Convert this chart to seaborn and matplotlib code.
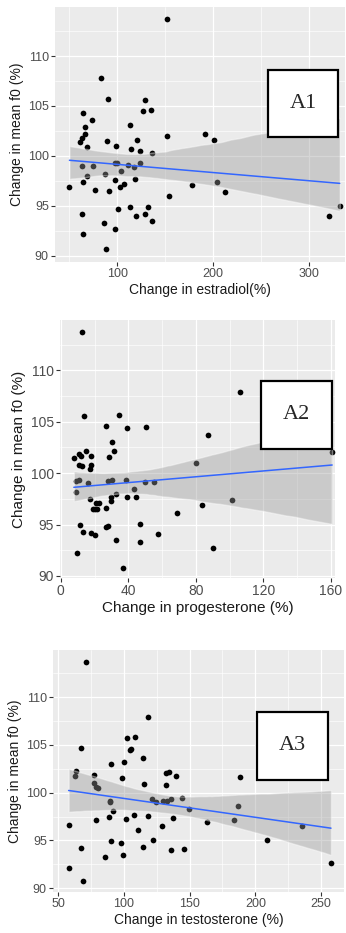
import numpy as np
import pandas as pd
import matplotlib
matplotlib.use('Agg')
import matplotlib.pyplot as plt
from matplotlib.patches import Rectangle
from matplotlib.ticker import MultipleLocator
import seaborn as sns

# Panel A1 : estradiol
estradiol = [152.4, 82.9, 90.2, 129.3, 134.9, 127.2, 64.4, 73.8, 112.9, 66.8,
             66.8, 152.4, 191.4, 200.9, 62.7, 61.3, 89.2, 120.9, 68.9, 98.6,
             114.0, 123.4, 136.0, 62.7, 74.2, 97.6, 100.0, 111.5, 123.7, 117.5,
             103.5, 87.4, 68.9, 97.9, 118.5, 107.0, 102.8, 50.1, 64.7, 77.3,
             91.3, 177.8, 204.4, 213.1, 154.1, 113.3, 132.5, 100.7, 63.7, 128.6,
             119.2, 136.0, 86.4, 97.6, 64.7, 88.5, 321.0, 332.5]
f0_estradiol = [113.7, 107.8, 105.7, 105.6, 104.6, 104.5, 104.3, 103.6, 103.1, 102.9,
                102.2, 102.0, 102.2, 101.6, 101.8, 101.4, 101.5, 101.6, 100.9, 101.0,
                100.7, 100.5, 100.3, 99.0, 99.0, 99.3, 99.3, 99.1, 99.3, 98.9,
                98.5, 98.2, 98.0, 97.6, 97.7, 97.2, 96.9, 96.9, 97.4, 96.6,
                96.5, 97.1, 97.4, 96.4, 96.0, 94.9, 94.9, 94.7, 94.2, 94.2,
                94.0, 93.5, 93.3, 92.7, 92.2, 90.7, 94.0, 95.0]

# Panel A2 : progesterone (le dernier point est caché sous le cadre A2)
progesterone = [12.8, 105.9, 13.6, 34.4, 26.8, 39.4, 50.6, 87.0, 30.1, 31.5,
                15.0, 11.0, 7.7, 11.8, 18.1, 28.7, 11.0, 12.8, 18.1, 17.3,
                80.3, 160.8, 9.1, 11.0, 15.9, 27.9, 30.5, 38.8, 49.8, 55.1,
                8.9, 32.7, 43.5, 29.5, 29.9, 39.4, 44.7, 17.5, 21.1, 22.8,
                18.9, 20.3, 21.6, 27.0, 83.4, 101.4, 68.9, 11.4, 47.0, 27.0,
                27.9, 13.0, 18.1, 20.3, 57.3, 32.9, 47.2, 90.1, 9.6, 36.8,
                125.0]
f0_progesterone = [113.7, 107.9, 105.6, 105.7, 104.6, 104.4, 104.5, 103.7, 103.0, 102.2,
                   102.2, 101.9, 101.5, 101.7, 101.7, 101.6, 100.8, 100.7, 100.8, 100.4,
                   101.0, 102.1, 99.2, 99.3, 99.0, 99.2, 99.3, 99.3, 99.1, 99.1,
                   98.2, 98.0, 98.5, 97.7, 97.3, 97.7, 97.7, 97.5, 97.1, 97.1,
                   96.5, 96.5, 96.5, 96.6, 96.9, 97.4, 96.1, 95.0, 95.1, 94.8,
                   94.9, 94.3, 94.2, 94.0, 94.1, 93.5, 93.3, 92.7, 92.2, 90.8,
                   104.0]

# Panel A3 : testosterone
testosterone = [70.8, 118.5, 108.6, 102.5, 67.5, 104.3, 105.3, 114.7, 100.3, 90.4,
                63.7, 62.7, 76.9, 98.7, 132.0, 134.3, 139.3, 188.3, 76.9, 78.4,
                80.5, 115.5, 132.0, 89.1, 89.6, 121.1, 124.1, 129.9, 132.5, 135.8,
                144.2, 91.9, 107.9, 118.3, 88.8, 137.6, 149.7, 186.8, 78.4, 101.3,
                183.8, 163.5, 57.9, 129.2, 110.4, 235.5, 90.4, 98.0, 122.3, 208.6,
                67.5, 114.7, 135.5, 145.9, 85.8, 99.5, 57.9, 257.6, 68.5]
f0_testosterone = [113.7, 107.9, 105.8, 105.7, 104.7, 104.5, 104.6, 103.6, 103.2, 103.0,
                   102.3, 101.7, 101.9, 101.5, 102.1, 102.2, 101.7, 101.6, 101.0, 100.6,
                   100.5, 100.9, 100.8, 99.1, 99.0, 99.3, 99.0, 99.1, 99.1, 99.3,
                   99.4, 98.1, 97.7, 97.6, 97.5, 97.4, 98.3, 98.6, 97.1, 97.2,
                   97.1, 96.9, 96.6, 96.5, 96.1, 96.5, 94.9, 94.7, 95.0, 95.0,
                   94.2, 94.3, 94.0, 94.1, 93.3, 93.5, 92.1, 92.6, 90.8]

sns.set_style('darkgrid', {'axes.facecolor': '#EBEBEB', 'grid.color': 'white'})
plt.rcParams['font.family'] = ['Liberation Sans', 'DejaVu Sans']

fig = plt.figure(figsize=(3.46, 9.33), dpi=100)
fig.patch.set_facecolor('white')


def draw_panel(rect, x, y, xlabel, xlim, ylim, xmaj, box, tag, fs_tick, fs_lab, seed):
    ax = fig.add_axes(rect)
    df = pd.DataFrame({'x': x, 'y': y})
    sns.scatterplot(data=df, x='x', y='y', ax=ax, color='black', s=17,
                    linewidth=0, zorder=3)
    # bande de confiance grise, comme geom_smooth
    sns.regplot(data=df, x='x', y='y', ax=ax, scatter=False, ci=95, seed=seed,
                n_boot=2000, color='#999999', line_kws={'alpha': 0})
    band = ax.collections[-1]
    band.set_facecolor('#999999')
    band.set_alpha(0.4)
    band.set_zorder(4)
    sns.regplot(data=df, x='x', y='y', ax=ax, scatter=False, ci=None,
                line_kws={'color': '#3366FF', 'lw': 1.1, 'zorder': 5})

    ax.set_xlim(*xlim)
    ax.set_ylim(*ylim)
    ax.xaxis.set_major_locator(MultipleLocator(xmaj))
    ax.xaxis.set_minor_locator(MultipleLocator(xmaj / 2))
    ax.yaxis.set_major_locator(MultipleLocator(5))
    ax.yaxis.set_minor_locator(MultipleLocator(2.5))
    ax.grid(True, which='major', color='white', lw=0.9)
    ax.grid(True, which='minor', color='white', lw=0.45)
    ax.set_axisbelow(True)
    for s in ax.spines.values():
        s.set_visible(False)
    ax.tick_params(which='major', bottom=True, left=True, length=3,
                   width=0.8, color='#333333', labelcolor='#4D4D4D',
                   labelsize=fs_tick, pad=1.5)
    ax.tick_params(which='minor', length=0)
    ax.set_xlabel(xlabel, fontsize=fs_lab, color='#1A1A1A', labelpad=2)
    ax.set_ylabel('Change in mean f0 (%)', fontsize=fs_lab, color='#1A1A1A',
                  labelpad=3)

    x0, y0, x1, y1 = box
    ax.add_patch(Rectangle((x0, y0), x1 - x0, y1 - y0, transform=ax.transAxes,
                           facecolor='white', edgecolor='black', lw=1.6,
                           zorder=6, clip_on=False))
    ax.text((x0 + x1) / 2, (y0 + y1) / 2, tag, transform=ax.transAxes,
            ha='center', va='center', fontsize=16, family='Liberation Serif',
            zorder=7)
    return ax


draw_panel([55 / 346, 1 - 262 / 933, 290 / 346, 255 / 933],
           estradiol, f0_estradiol, 'Change in estradiol(%)',
           (35, 338), (89.4, 114.9), 100, (0.734, 0.490, 0.976, 0.753), 'A1',
           9, 10, 3)
draw_panel([60 / 346, 1 - 578 / 933, 275 / 346, 258 / 933],
           progesterone, f0_progesterone, 'Change in progesterone (%)',
           (-0.5, 162.5), (89.8, 114.9), 40, (0.731, 0.500, 0.988, 0.764), 'A2',
           10, 11, 0)
draw_panel([53 / 346, 1 - 892 / 933, 291 / 346, 242 / 933],
           testosterone, f0_testosterone, 'Change in testosterone (%)',
           (46, 267.5), (89.6, 114.95), 50, (0.702, 0.463, 0.946, 0.744), 'A3',
           9, 10, 3)

fig.savefig('out.png', dpi=100)
